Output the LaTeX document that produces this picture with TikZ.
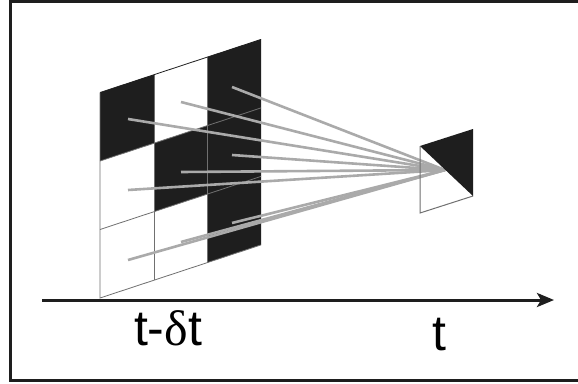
\documentclass[tikz,border=0pt]{standalone}
\usepackage{fontspec}
\setmainfont{Liberation Sans}
\newfontfamily\serifgreek{Liberation Serif}
\usetikzlibrary{arrows.meta}
\definecolor{ink}{HTML}{1E1E1E}
\definecolor{ray}{HTML}{AAAAAA}
\definecolor{gridc}{HTML}{707070}
\tikzset{
  frame/.style={draw=ink,line width=3pt},
  blackcell/.style={fill=ink},
  gridline/.style={draw=gridc,line width=0.8pt},
  rayline/.style={draw=ray,line width=2.6pt},
  axisline/.style={draw=ink,line width=3pt,-{Stealth[length=17pt,width=14pt,inset=4pt]}},
  lbl/.style={font=\fontsize{50}{52}\selectfont,inner sep=0pt,anchor=base},
}
\begin{document}
\begin{tikzpicture}[x=1pt,y=-1pt]
\useasboundingbox (0,0) rectangle (578,383);
\fill[white] (0,0) rectangle (578,383);
% frame (open on the right)
\draw[frame] (578,1.5) -- (10.5,1.5) -- (10.5,380.5) -- (578,380.5);
% grid coordinates
\coordinate (a00) at (100,92.5);  \coordinate (a10) at (154,74.7);  \coordinate (a20) at (207,57.2);  \coordinate (a30) at (261,39.4);
\coordinate (a01) at (100,161);   \coordinate (a11) at (154,143.2); \coordinate (a21) at (207,125.7); \coordinate (a31) at (261,107.9);
\coordinate (a02) at (100,229.5); \coordinate (a12) at (154,211.7); \coordinate (a22) at (207,194.2); \coordinate (a32) at (261,176.4);
\coordinate (a03) at (100,298);   \coordinate (a13) at (154,280.2); \coordinate (a23) at (207,262.7); \coordinate (a33) at (261,244.9);
% black cells
\fill[blackcell] (a00) -- (a10) -- (a11) -- (a01) -- cycle;
\fill[blackcell] (a20) -- (a30) -- (a33) -- (a23) -- cycle;
\fill[blackcell] (a11) -- (a21) -- (a22) -- (a12) -- cycle;
% grid lines
\draw[gridline] (a10) -- (a13);
\draw[gridline] (a20) -- (a23);
\draw[gridline] (a01) -- (a31);
\draw[gridline] (a02) -- (a32);
\draw[draw=ink,line width=0.8pt] (a00) -- (a30);
\draw[gridline] (a00) -- (a03) -- (a33);
% target patch
\coordinate (p1) at (420,146);
\coordinate (p2) at (473,129);
\coordinate (p3) at (473,196);
\coordinate (p4) at (420,213);
\coordinate (f) at (445,170);
% rays
\foreach \x/\y in {232/87,181/102,128/119,232/155,181/172,128/190,232/223,181/242,128/260}
  \draw[rayline] (\x,\y) -- (f);
\draw[gridline,line width=1pt] (p1) -- (p4) -- (p3);
\fill[ink] (p1) -- (p2) -- (p3) -- cycle;
% axis
\coordinate (ax0) at (42,300);
\coordinate (ax1) at (554,300);
\draw[axisline] (ax0) -- (ax1);
\node[lbl] (l1) at (168,345) {t-{\serifgreek δ}t};
\node[lbl] (l2) at (439,350) {t};
\end{tikzpicture}
\end{document}
